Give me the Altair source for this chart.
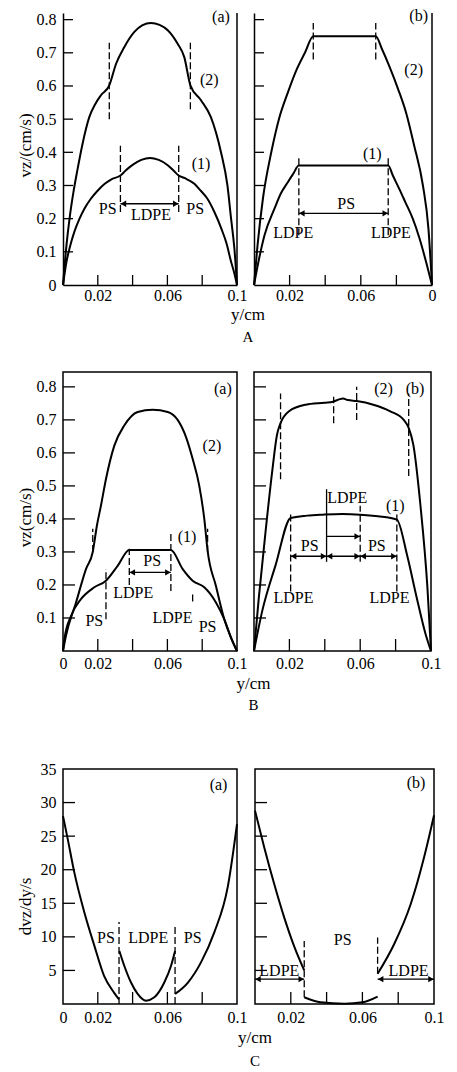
import altair as alt
import pandas as pd

FONT = "Liberation Serif"

# ---------------- common tick / label values ----------------
X_TICKS = [0.02, 0.04, 0.06, 0.08]
V_TICKS = [0.1, 0.2, 0.3, 0.4, 0.5, 0.6, 0.7, 0.8]
V_LABELS_A = [0, 0.1, 0.2, 0.3, 0.4, 0.5, 0.6, 0.7, 0.8]
V_LABELS_B = [0.1, 0.2, 0.3, 0.4, 0.5, 0.6, 0.7, 0.8]
G_TICKS = [5, 10, 15, 20, 25, 30]
G_LABELS = [5, 10, 15, 20, 25, 30, 35]
X_LABELS_LEFT = [0, 0.02, 0.06, 0.1]
X_LABELS_RIGHT = [0.02, 0.06, 0.1]

# ---------------- A (a) ----------------
AA_C2_Y = [0, 0.002, 0.004, 0.006, 0.0084, 0.011, 0.0151, 0.0185, 0.0218, 0.0266, 0.0305,
           0.0352, 0.041, 0.0455, 0.0506, 0.0555, 0.0602, 0.0659, 0.0697, 0.0732, 0.0793,
           0.085, 0.0908, 0.0945, 0.0966, 0.0985, 0.1]
AA_C2_V = [0, 0.12, 0.21, 0.28, 0.35, 0.42, 0.506, 0.545, 0.572, 0.602, 0.667,
           0.717, 0.763, 0.783, 0.79, 0.784, 0.768, 0.727, 0.687, 0.602, 0.557,
           0.506, 0.40, 0.30, 0.20, 0.11, 0]
AA_C1_Y = [0, 0.002, 0.004, 0.0065, 0.0095, 0.0123, 0.016, 0.020, 0.024, 0.0276, 0.033, 0.036,
           0.040, 0.045, 0.050, 0.055, 0.060, 0.0635, 0.0665, 0.070, 0.0755, 0.079, 0.083,
           0.087, 0.091, 0.094, 0.0966, 0.0985, 0.1]
AA_C1_V = [0, 0.07, 0.115, 0.16, 0.20, 0.23, 0.26, 0.285, 0.305, 0.318, 0.33, 0.345,
           0.362, 0.377, 0.383, 0.377, 0.362, 0.345, 0.33, 0.322, 0.305, 0.285, 0.26,
           0.22, 0.17, 0.125, 0.07, 0.035, 0]
AA_DASH_Y = [0.0266, 0.0732, 0.033, 0.0665]
AA_DASH_LO = [0.50, 0.53, 0.22, 0.22]
AA_DASH_HI = [0.73, 0.73, 0.42, 0.42]
AA_ARR_Y1 = [0.033]
AA_ARR_Y2 = [0.0665]
AA_ARR_V = [0.245]
AA_LAB_T = ["(a)", "(2)", "(1)", "PS", "LDPE", "PS"]
AA_LAB_Y = [0.0908, 0.0841, 0.0793, 0.0257, 0.0506, 0.076]
AA_LAB_V = [0.807, 0.617, 0.365, 0.23, 0.21, 0.23]

# ---------------- A (b) ----------------
AB_C2_Y = [0, 0.002, 0.005, 0.0097, 0.014, 0.019, 0.024, 0.0286, 0.0333, 0.0684, 0.072, 0.076,
           0.081, 0.0854, 0.09, 0.0949, 0.098, 0.1]
AB_C2_V = [0, 0.12, 0.26, 0.40, 0.50, 0.58, 0.65, 0.70, 0.75, 0.75, 0.71, 0.66,
           0.59, 0.52, 0.42, 0.30, 0.17, 0]
AB_C1_Y = [0, 0.0025, 0.0059, 0.0115, 0.015, 0.019, 0.022, 0.0252, 0.0754, 0.078, 0.0816, 0.085,
           0.0892, 0.093, 0.0968, 0.1]
AB_C1_V = [0, 0.07, 0.15, 0.23, 0.275, 0.31, 0.335, 0.36, 0.36, 0.33, 0.29, 0.25,
           0.20, 0.14, 0.067, 0]
AB_DASH_Y = [0.0333, 0.0684, 0.0252, 0.0754]
AB_DASH_LO = [0.68, 0.68, 0.15, 0.15]
AB_DASH_HI = [0.79, 0.79, 0.39, 0.39]
AB_ARR_Y1 = [0.0252]
AB_ARR_Y2 = [0.0754]
AB_ARR_V = [0.216]
AB_LAB_T = ["(b)", "(2)", "(1)", "PS", "LDPE", "LDPE"]
AB_LAB_Y = [0.0925, 0.0897, 0.0665, 0.0518, 0.022, 0.0769]
AB_LAB_V = [0.81, 0.647, 0.395, 0.243, 0.158, 0.158]

# ---------------- B (a) ----------------
BA_C2_Y = [0, 0.0017, 0.0075, 0.0132, 0.0171, 0.0195, 0.0218, 0.0247, 0.0295, 0.0352, 0.0429,
           0.0515, 0.0602, 0.0659, 0.0707, 0.0745, 0.0783, 0.0812, 0.0831, 0.0879, 0.0927,
           0.0966, 0.1]
BA_C2_V = [0, 0.046, 0.147, 0.248, 0.30, 0.38, 0.44, 0.521, 0.622, 0.683, 0.724,
           0.731, 0.724, 0.70, 0.648, 0.582, 0.501, 0.40, 0.304, 0.197, 0.096,
           0.04, 0]
BA_C1_Y = [0, 0.0008, 0.0046, 0.0103, 0.018, 0.0247, 0.0314, 0.0381, 0.062, 0.0688, 0.0745,
           0.0812, 0.0879, 0.0927, 0.0966, 0.1]
BA_C1_V = [0, 0.036, 0.106, 0.157, 0.193, 0.213, 0.258, 0.306, 0.306, 0.248, 0.213,
           0.193, 0.147, 0.096, 0.04, 0]
BA_DASH_Y = [0.0171, 0.0831, 0.0247, 0.0745, 0.0381, 0.062]
BA_DASH_LO = [0.30, 0.30, 0.096, 0.15, 0.20, 0.182]
BA_DASH_HI = [0.37, 0.37, 0.248, 0.175, 0.31, 0.354]
BA_ARR_Y1 = [0.0381]
BA_ARR_Y2 = [0.062]
BA_ARR_V = [0.238]
BA_LAB_T = ["(a)", "(2)", "(1)", "PS", "LDPE", "PS", "LDPE", "PS"]
BA_LAB_Y = [0.0919, 0.0856, 0.0713, 0.0513, 0.0404, 0.018, 0.0629, 0.0831]
BA_LAB_V = [0.793, 0.621, 0.344, 0.273, 0.177, 0.091, 0.101, 0.074]

# ---------------- B (b) ----------------
BB_C2_Y = [0, 0.0027, 0.0065, 0.0103, 0.013, 0.015, 0.0198, 0.0293, 0.040, 0.0446, 0.048,
           0.0503, 0.053, 0.058, 0.0674, 0.077, 0.0846, 0.0874, 0.090, 0.094, 0.098, 0.1]
BB_C2_V = [0, 0.16, 0.36, 0.545, 0.655, 0.69, 0.726, 0.746, 0.752, 0.755, 0.762,
           0.765, 0.76, 0.757, 0.746, 0.726, 0.70, 0.676, 0.625, 0.443, 0.19, 0]
BB_C1_Y = [0, 0.0046, 0.0122, 0.0207, 0.030, 0.039, 0.050, 0.060, 0.070, 0.0807, 0.0865,
           0.092, 0.097, 0.1]
BB_C1_V = [0, 0.12, 0.26, 0.403, 0.41, 0.413, 0.415, 0.413, 0.408, 0.398, 0.29,
           0.16, 0.05, 0]
BB_DASH_Y = [0.015, 0.045, 0.058, 0.0874, 0.0207, 0.0807, 0.06]
BB_DASH_LO = [0.52, 0.69, 0.70, 0.53, 0.18, 0.18, 0.27]
BB_DASH_HI = [0.78, 0.77, 0.80, 0.78, 0.42, 0.42, 0.44]
BB_SOLID_Y = [0.041]
BB_SOLID_LO = [0.27]
BB_SOLID_HI = [0.49]
BB_ARR_Y1 = [0.041, 0.0207, 0.041, 0.06]
BB_ARR_Y2 = [0.06, 0.041, 0.06, 0.0807]
BB_ARR_V = [0.347, 0.287, 0.287, 0.287]
BB_ARR_LEFTHEAD = [False, True, True, True]
BB_LAB_T = ["(2)", "(b)", "LDPE", "(1)", "PS", "PS", "LDPE", "LDPE"]
BB_LAB_Y = [0.0732, 0.091, 0.0527, 0.0798, 0.0315, 0.0694, 0.0223, 0.0765]
BB_LAB_V = [0.792, 0.792, 0.464, 0.438, 0.317, 0.317, 0.16, 0.16]

# ---------------- C (a) ----------------
CA_S1_Y = [0, 0.0027, 0.0065, 0.0122, 0.018, 0.0236, 0.0293, 0.0322]
CA_S1_G = [28, 24.6, 19.6, 13.7, 8.7, 4.2, 1.7, 0.7]
CA_S2_Y = [0.0324, 0.0352, 0.0391, 0.0429, 0.0477, 0.0525, 0.0582, 0.0621, 0.0644]
CA_S2_G = [7.9, 5.7, 3.2, 1.5, 0.5, 1.0, 3.2, 5.7, 7.9]
CA_S3_Y = [0.0644, 0.0718, 0.0793, 0.087, 0.0948, 0.1]
CA_S3_G = [1.5, 3.2, 6.2, 10.7, 17.6, 26.8]
CA_DASH_Y = [0.0322, 0.0644]
CA_DASH_LO = [0, 0]
CA_DASH_HI = [12.2, 11.7]
CA_LAB_T = ["(a)", "PS", "LDPE", "PS"]
CA_LAB_Y = [0.0894, 0.0247, 0.049, 0.0745]
CA_LAB_G = [32.6, 9.9, 9.9, 9.9]

# ---------------- C (b) ----------------
CB_S1_Y = [0, 0.0051, 0.0107, 0.0163, 0.022, 0.0275]
CB_S1_G = [28.8, 23.4, 17.9, 12.9, 8.5, 5.0]
CB_S2_Y = [0.0275, 0.0367, 0.05, 0.06, 0.0685]
CB_S2_G = [1.0, 0.25, 0.05, 0.25, 1.1]
CB_S3_Y = [0.0685, 0.0777, 0.087, 0.0945, 0.1]
CB_S3_G = [4.5, 8.9, 14.9, 21.9, 28.1]
CB_DASH_Y = [0.0275, 0.0685]
CB_DASH_LO = [1.0, 4.5]
CB_DASH_HI = [9.4, 9.9]
CB_ARR_Y1 = [0, 0.0685]
CB_ARR_Y2 = [0.0275, 0.1]
CB_ARR_V = [3.7, 3.7]
CB_LAB_T = ["(b)", "PS", "LDPE", "LDPE"]
CB_LAB_Y = [0.09, 0.049, 0.0136, 0.0858]
CB_LAB_G = [32.9, 9.5, 4.9, 4.9]


def curves_df(segs):
    rows = []
    for sid, xs, vs in segs:
        for x, v in zip(xs, vs):
            rows.append({"pos": x, "val": v, "seg": sid})
    return pd.DataFrame(rows)


def make_panel(segs, dash, labels, xlab_vals, xlab_expr, ylab_vals, ytick_vals, ydom,
               width, height, boxed, left_axis, ytitle="", title_y=0,
               tick_len=10, xlab_pad=2, solid=None, arrows=None):
    xs = alt.Scale(domain=[0, 0.1], nice=False, zero=False)
    ys = alt.Scale(domain=ydom, nice=False, zero=False)
    x_axis = alt.Axis(values=xlab_vals, labelExpr=xlab_expr, ticks=False, grid=False,
                      title=None, domain=not boxed, domainColor="black", domainWidth=1.5,
                      labelFont=FONT, labelFontSize=16, labelColor="black",
                      labelPadding=xlab_pad, labelFlush=False, labelOverlap=False)
    if left_axis:
        y_axis = alt.Axis(values=ylab_vals, format="~g", ticks=False, grid=False,
                          title=ytitle, domain=not boxed, domainColor="black",
                          domainWidth=1.5, labelFont=FONT, labelFontSize=16,
                          labelColor="black", labelPadding=7, labelOverlap=False,
                          labelFlush=False, titleFont=FONT, titleFontSize=17,
                          titleFontWeight="normal", titleColor="black",
                          titleX=-38, titleY=title_y, titleBaseline="middle")
    else:
        y_axis = alt.Axis(labels=False, ticks=False, grid=False, title=None,
                          domain=not boxed, domainColor="black", domainWidth=1.5)

    def X(f):
        return alt.X(f, scale=xs, axis=x_axis)

    def Y(f):
        return alt.Y(f, scale=ys, axis=y_axis)

    layers = []
    layers.append(
        alt.Chart(curves_df(segs)).mark_line(color="black", strokeWidth=2,
                                             interpolate="monotone")
        .encode(x=X("pos:Q"), y=Y("val:Q"), detail="seg:N")
    )
    dy, dlo, dhi = dash
    layers.append(
        alt.Chart(pd.DataFrame({"pos": dy, "lo": dlo, "hi": dhi}))
        .mark_rule(color="black", strokeWidth=1.3, strokeDash=[7, 3])
        .encode(x=X("pos:Q"), y=Y("lo:Q"), y2="hi:Q")
    )
    if solid is not None:
        sy, slo, shi = solid
        layers.append(
            alt.Chart(pd.DataFrame({"pos": sy, "lo": slo, "hi": shi}))
            .mark_rule(color="black", strokeWidth=1.3)
            .encode(x=X("pos:Q"), y=Y("lo:Q"), y2="hi:Q")
        )
    if arrows is not None:
        a1, a2, av, aleft = arrows
        adf = pd.DataFrame({"x1": a1, "x2": a2, "val": av, "lh": aleft})
        layers.append(
            alt.Chart(adf).mark_rule(color="black", strokeWidth=1.3)
            .encode(x=X("x1:Q"), x2="x2:Q", y=Y("val:Q"))
        )
        layers.append(
            alt.Chart(adf[adf["lh"]]).mark_point(shape="triangle-left", filled=True,
                                                 size=40, color="black", opacity=1,
                                                 xOffset=3)
            .encode(x=X("x1:Q"), y=Y("val:Q"))
        )
        layers.append(
            alt.Chart(adf).mark_point(shape="triangle-right", filled=True, size=40,
                                      color="black", opacity=1, xOffset=-3)
            .encode(x=X("x2:Q"), y=Y("val:Q"))
        )
    lt, ly, lv = labels
    layers.append(
        alt.Chart(pd.DataFrame({"t": lt, "pos": ly, "val": lv}))
        .mark_text(font=FONT, fontSize=16, color="black", align="center",
                   baseline="middle")
        .encode(x=X("pos:Q"), y=Y("val:Q"), text="t:N")
    )
    # inward ticks
    layers.append(
        alt.Chart(pd.DataFrame({"tv": ytick_vals})).mark_rule(color="black", strokeWidth=1.3)
        .encode(y=Y("tv:Q"), x=alt.value(0), x2=alt.value(tick_len))
    )
    layers.append(
        alt.Chart(pd.DataFrame({"tv": X_TICKS})).mark_rule(color="black", strokeWidth=1.3)
        .encode(x=X("tv:Q"), y=alt.value(height), y2=alt.value(height - tick_len))
    )
    if not boxed:
        layers.append(
            alt.Chart(pd.DataFrame({"k": [0]})).mark_rule(color="black", strokeWidth=1.5)
            .encode(x=alt.value(width), y=alt.value(0), y2=alt.value(height))
        )
    ch = alt.layer(*layers).properties(width=width, height=height)
    if boxed:
        ch = ch.properties(view=alt.ViewBackground(stroke="black", strokeWidth=1.5))
    return ch


XFMT = "format(datum.value, '~g')"
XFMT_AB = "datum.value > 0.09 ? '0' : format(datum.value, '~g')"

A_DOM = [0, 0.82]
B_DOM = [0, 0.845]
C_DOM = [0, 35]

pa_a = make_panel(
    [("c2", AA_C2_Y, AA_C2_V), ("c1", AA_C1_Y, AA_C1_V)],
    (AA_DASH_Y, AA_DASH_LO, AA_DASH_HI), (AA_LAB_T, AA_LAB_Y, AA_LAB_V),
    X_LABELS_RIGHT, XFMT, V_LABELS_A, V_TICKS, A_DOM, 174, 272, False, True,
    ytitle="vz/(cm/s)", title_y=132, tick_len=10, xlab_pad=2,
    arrows=(AA_ARR_Y1, AA_ARR_Y2, AA_ARR_V, [True]))
pa_b = make_panel(
    [("c2", AB_C2_Y, AB_C2_V), ("c1", AB_C1_Y, AB_C1_V)],
    (AB_DASH_Y, AB_DASH_LO, AB_DASH_HI), (AB_LAB_T, AB_LAB_Y, AB_LAB_V),
    X_LABELS_RIGHT, XFMT_AB, V_LABELS_A, V_TICKS, A_DOM, 178, 272, False, False,
    tick_len=10, xlab_pad=2,
    arrows=(AB_ARR_Y1, AB_ARR_Y2, AB_ARR_V, [True]))

pb_a = make_panel(
    [("c2", BA_C2_Y, BA_C2_V), ("c1", BA_C1_Y, BA_C1_V)],
    (BA_DASH_Y, BA_DASH_LO, BA_DASH_HI), (BA_LAB_T, BA_LAB_Y, BA_LAB_V),
    X_LABELS_LEFT, XFMT, V_LABELS_B, V_TICKS, B_DOM, 174, 279, True, True,
    ytitle="vz(cm/s)", title_y=145, tick_len=12, xlab_pad=4,
    arrows=(BA_ARR_Y1, BA_ARR_Y2, BA_ARR_V, [True]))
pb_b = make_panel(
    [("c2", BB_C2_Y, BB_C2_V), ("c1", BB_C1_Y, BB_C1_V)],
    (BB_DASH_Y, BB_DASH_LO, BB_DASH_HI), (BB_LAB_T, BB_LAB_Y, BB_LAB_V),
    X_LABELS_RIGHT, XFMT, V_LABELS_B, V_TICKS, B_DOM, 177, 279, True, False,
    tick_len=12, xlab_pad=4, solid=(BB_SOLID_Y, BB_SOLID_LO, BB_SOLID_HI),
    arrows=(BB_ARR_Y1, BB_ARR_Y2, BB_ARR_V, BB_ARR_LEFTHEAD))

pc_a = make_panel(
    [("s1", CA_S1_Y, CA_S1_G), ("s2", CA_S2_Y, CA_S2_G), ("s3", CA_S3_Y, CA_S3_G)],
    (CA_DASH_Y, CA_DASH_LO, CA_DASH_HI), (CA_LAB_T, CA_LAB_Y, CA_LAB_G),
    X_LABELS_LEFT, XFMT, G_LABELS, G_TICKS, C_DOM, 174, 235, True, True,
    ytitle="dvz/dy/s", title_y=137, tick_len=12, xlab_pad=5)
pc_b = make_panel(
    [("s1", CB_S1_Y, CB_S1_G), ("s2", CB_S2_Y, CB_S2_G), ("s3", CB_S3_Y, CB_S3_G)],
    (CB_DASH_Y, CB_DASH_LO, CB_DASH_HI), (CB_LAB_T, CB_LAB_Y, CB_LAB_G),
    X_LABELS_RIGHT, XFMT, G_LABELS, G_TICKS, C_DOM, 179, 235, True, False,
    tick_len=12, xlab_pad=5,
    arrows=(CB_ARR_Y1, CB_ARR_Y2, CB_ARR_V, [True, True]))


def row_title(letter, off, sub_pad, dx):
    return alt.TitleParams(text="y/cm", subtitle=letter, orient="bottom", anchor="middle",
                           frame="bounds", dx=dx, font=FONT, fontSize=17,
                           fontWeight="normal", color="black", subtitleFont=FONT,
                           subtitleFontSize=15, subtitleColor="black", offset=off,
                           subtitlePadding=sub_pad)


row_a = alt.hconcat(pa_a, pa_b, spacing=17, bounds="flush", title=row_title("A", 4, 6, 22))
row_b = alt.hconcat(pb_a, pb_b, spacing=17, bounds="flush", title=row_title("B", 4, 5, 25))
row_c = alt.hconcat(pc_a, pc_b, spacing=18, bounds="flush", title=row_title("C", 4, 7, 25))

chart = (
    alt.vconcat(row_a, alt.vconcat(row_b, row_c, spacing=47), spacing=26)
    .properties(padding={"left": 7, "top": 0, "right": 2, "bottom": 0},
                background="white")
    .configure_view(stroke=None)
)

chart.save("out.html", embed_options={"renderer": "svg", "actions": False})
